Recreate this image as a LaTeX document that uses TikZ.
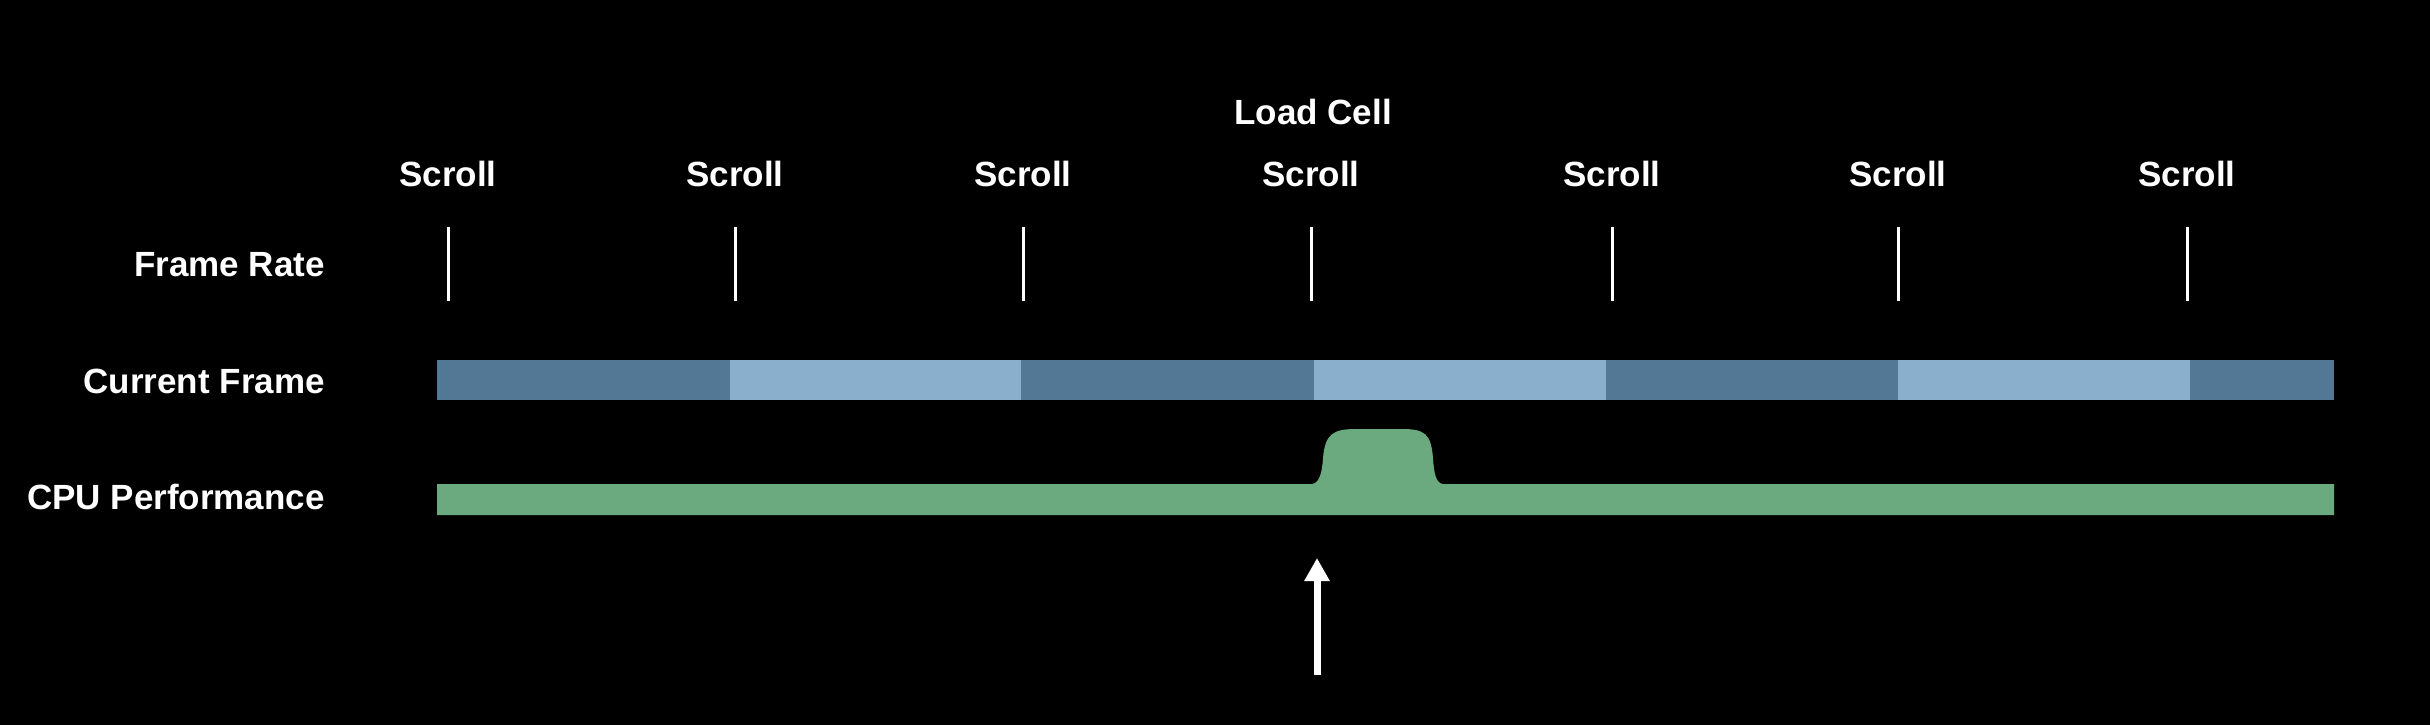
\documentclass[tikz,border=0pt]{standalone}
\usepackage{fontspec}
\setmainfont{Liberation Sans}
\usetikzlibrary{arrows.meta}
\definecolor{framedark}{RGB}{82,120,150}
\definecolor{framelight}{RGB}{138,175,204}
\definecolor{cpugreen}{RGB}{106,170,126}
\begin{document}
\begin{tikzpicture}[x=1pt,y=-1pt,
  lbl/.style={text=white,font=\fontsize{35}{42}\selectfont\bfseries,inner sep=0pt},
  rowlbl/.style={lbl,anchor=east},
  tickline/.style={draw=white,line width=3pt},
  arrowline/.style={draw=white,line width=7pt,-{Triangle[width=24pt,length=23pt]}}]
\useasboundingbox (0,0) rectangle (2430,724);
\fill[black] (-10,-10) rectangle (2440,734);
% row labels
\node[rowlbl] (lfr) at (325,265) {Frame Rate};
\node[rowlbl] (lcf) at (325,381) {Current Frame};
\node[rowlbl] (lcpu) at (325,497) {CPU Performance};
% top labels
\node[lbl] (load) at (1313,112) {Load Cell};
\foreach \i/\x in {1/448,2/735,3/1023,4/1311,5/1612,6/1898,7/2187}{
  \node[lbl] (s\i) at (\x,174) {Scroll};
  \coordinate (ta\i) at (\x,227);
  \coordinate (tb\i) at (\x,301);
  \draw[tickline] (ta\i) -- (tb\i);
}
% current frame bar
\fill[framedark]  (437,360) rectangle (730,400);
\fill[framelight] (730,360) rectangle (1021,400);
\fill[framedark]  (1021,360) rectangle (1314,400);
\fill[framelight] (1314,360) rectangle (1606,400);
\fill[framedark]  (1606,360) rectangle (1898,400);
\fill[framelight] (1898,360) rectangle (2190,400);
\fill[framedark]  (2190,360) rectangle (2334,400);
% cpu bar with bump
\fill[cpugreen] (437,515) -- (437,484) -- (1312,484)
  .. controls (1319,483) and (1322,474) .. (1323,458)
  .. controls (1325,434) and (1333,429) .. (1356,429)
  -- (1402,429)
  .. controls (1425,429) and (1431,434) .. (1433,458)
  .. controls (1434,474) and (1436,483) .. (1443,484)
  -- (2334,484) -- (2334,515) -- cycle;
% arrow
\coordinate (atail) at (1317,675);
\coordinate (atip) at (1317,558);
\draw[arrowline] (atail) -- (atip);
\end{tikzpicture}
\end{document}
